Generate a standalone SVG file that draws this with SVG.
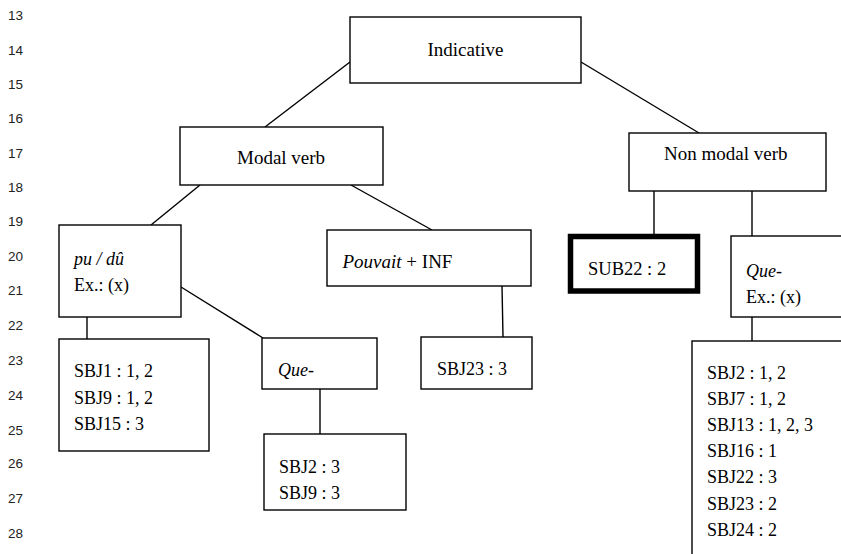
<svg xmlns="http://www.w3.org/2000/svg" width="841" height="554" viewBox="0 0 841 554">
<style>
.box{fill:#fff;stroke:#000;stroke-width:1.4}
.thick{fill:#fff;stroke:#000;stroke-width:5.5}
.ln{stroke:#000;stroke-width:1.4;fill:none}
.tm{font-family:"Liberation Serif","Times New Roman",serif;font-size:19px;fill:#000}
.cb{font-family:"Liberation Serif","Times New Roman",serif;font-size:18px;fill:#000}
.it{font-style:italic}
.num{font-family:"Liberation Sans",Arial,sans-serif;font-size:13.5px;fill:#222}
</style>
<rect width="841" height="554" fill="#fff"/>
<g id="line-numbers" class="num">
<text x="8" y="20">13</text>
<text x="8" y="54.5">14</text>
<text x="8" y="89">15</text>
<text x="8" y="123">16</text>
<text x="8" y="158">17</text>
<text x="8" y="192">18</text>
<text x="8" y="226">19</text>
<text x="8" y="261">20</text>
<text x="8" y="295">21</text>
<text x="8" y="330">22</text>
<text x="8" y="364.5">23</text>
<text x="8" y="399.5">24</text>
<text x="8" y="435">25</text>
<text x="8" y="468">26</text>
<text x="8" y="503">27</text>
<text x="8" y="538">28</text>
</g>
<g id="connectors" class="ln">
<line x1="350" y1="62" x2="265" y2="127"/>
<line x1="581" y1="62" x2="699" y2="133"/>
<line x1="200" y1="185" x2="151" y2="225"/>
<line x1="351" y1="185" x2="432" y2="230"/>
<line x1="87" y1="317" x2="87" y2="339"/>
<line x1="181" y1="287" x2="263" y2="338"/>
<line x1="320" y1="389" x2="320" y2="434"/>
<line x1="502" y1="286" x2="503" y2="337"/>
<line x1="654" y1="191" x2="654" y2="236"/>
<line x1="752" y1="191" x2="752" y2="236"/>
<line x1="752" y1="317" x2="752" y2="341"/>
</g>
<g id="indicative">
<rect class="box" x="350" y="17" width="231" height="66"/>
<text class="tm" x="465.5" y="56" text-anchor="middle">Indicative</text>
</g>
<g id="modal-verb">
<rect class="box" x="180" y="127" width="203" height="58"/>
<text class="tm" x="237" y="164">Modal verb</text>
</g>
<g id="non-modal-verb">
<rect class="box" x="629" y="133" width="197" height="58"/>
<text class="tm" x="664" y="160">Non modal verb</text>
</g>
<g id="pu-du">
<rect class="box" x="59" y="225" width="122" height="92"/>
<text class="cb it" x="74" y="265">pu / dû</text>
<text class="cb" x="74" y="290.5">Ex.: (x)</text>
</g>
<g id="pouvait-inf">
<rect class="box" x="327" y="230" width="204" height="56"/>
<text class="tm" x="342.5" y="268"><tspan class="it">Pouvait</tspan> + INF</text>
</g>
<g id="sub22">
<rect class="thick" x="570.5" y="236.5" width="127" height="54.5"/>
<text class="cb" x="588" y="275" style="font-size:18.5px">SUB22 : 2</text>
</g>
<g id="que-ex">
<rect class="box" x="731" y="236" width="130" height="81"/>
<text class="cb it" x="746" y="276.5">Que-</text>
<text class="cb" x="746" y="302.5">Ex.: (x)</text>
</g>
<g id="sbj-pu">
<rect class="box" x="59" y="339" width="150" height="112"/>
<text class="cb" x="74" y="377">SBJ1 : 1, 2</text>
<text class="cb" x="74" y="403.5">SBJ9 : 1, 2</text>
<text class="cb" x="74" y="430">SBJ15 : 3</text>
</g>
<g id="que">
<rect class="box" x="262" y="338" width="115" height="51"/>
<text class="cb it" x="278" y="376">Que-</text>
</g>
<g id="sbj23">
<rect class="box" x="421" y="337" width="111" height="52"/>
<text class="cb" x="437" y="375">SBJ23 : 3</text>
</g>
<g id="sbj-que">
<rect class="box" x="264" y="434" width="142" height="76"/>
<text class="cb" x="279" y="472.5">SBJ2 : 3</text>
<text class="cb" x="279" y="498.5">SBJ9 : 3</text>
</g>
<g id="sbj-nonmodal">
<rect class="box" x="692" y="341" width="200" height="250"/>
<text class="cb" x="707" y="378.5">SBJ2 : 1, 2</text>
<text class="cb" x="707" y="404.5">SBJ7 : 1, 2</text>
<text class="cb" x="707" y="431">SBJ13 : 1, 2, 3</text>
<text class="cb" x="707" y="457">SBJ16 : 1</text>
<text class="cb" x="707" y="483">SBJ22 : 3</text>
<text class="cb" x="707" y="509.5">SBJ23 : 2</text>
<text class="cb" x="707" y="535.5">SBJ24 : 2</text>
</g>
</svg>
